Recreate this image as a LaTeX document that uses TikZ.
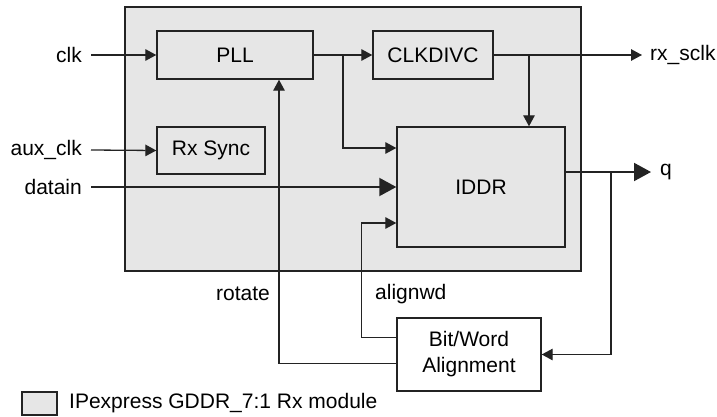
\documentclass[tikz,border=0pt]{standalone}
\usepackage{fontspec}
\setmainfont{Liberation Sans}
\usetikzlibrary{arrows.meta}
\definecolor{modfill}{RGB}{230,230,230}
\definecolor{ink}{RGB}{35,35,35}
\tikzset{
  blk/.style={draw=ink, line width=1.4pt, minimum width=#1, inner sep=0pt, align=center},
  sig/.style={draw=ink, line width=1.3pt, -{Triangle[length=11pt,width=11.5pt]}},
  bus/.style={draw=ink, line width=2pt, -{Triangle[length=17pt,width=18pt]}},
  wire/.style={draw=ink, line width=1.3pt},
  lbl/.style={inner sep=0pt, text=black},
}
\begin{document}
\begin{tikzpicture}[x=1pt, y=-1pt, font=\fontsize{21}{25}\selectfont]
\useasboundingbox (0,0) rectangle (717,417);

% module outline
\node[blk=456pt, minimum height=264pt, fill=modfill] (mod) at (353,139) {};

% blocks
\node[blk=156pt, minimum height=48pt] (pll) at (235,55) {PLL};
\node[blk=108pt, minimum height=47pt] (rx) at (211,150.5) {Rx Sync};
\node[blk=120pt, minimum height=48pt] (clkdiv) at (433,55) {CLKDIVC};
\node[blk=168pt, minimum height=120pt] (iddr) at (481,187) {IDDR};
\node[blk=144pt, minimum height=73pt, fill=white, font=\fontsize{21}{26}\selectfont] (bwa) at (469,354.5) {Bit/Word\\Alignment};

% port labels
\node[lbl, anchor=east] (clk) at (82,55) {clk};
\node[lbl, anchor=east] (aux) at (82,150) {aux\_clk};
\node[lbl, anchor=east] (din) at (82,187) {datain};
\node[lbl, anchor=west] (rxs) at (650,55) {rx\_sclk};
\node[lbl, anchor=west] (q) at (660,172) {q};
\node[lbl, anchor=east] (rot) at (270,294) {rotate};
\node[lbl, anchor=west] (alw) at (375,294) {alignwd};

% free ends
\coordinate (clkin) at (91,55);
\coordinate (auxin) at (91,150);
\coordinate (dinin) at (91,187);
\coordinate (rxsout) at (642,55);
\coordinate (qout) at (651,172);
\coordinate (b1) at (343,55);
\coordinate (b2) at (529,55);
\coordinate (b3) at (611,172);

% inputs
\draw[sig] (clkin) -- (pll.west);
\draw[sig] (auxin) -- (rx.west);
\draw[bus] (dinin) -- (iddr.west);

% clock path
\draw[sig] (pll.east) -- (clkdiv.west);
\draw[sig] (b1) |- ([yshift=39pt]iddr.west);
\draw[sig] (clkdiv.east) -- (rxsout);
\draw[sig] (b2) -- (b2 |- iddr.north);

% data output and alignment loop
\draw[bus] ([yshift=15pt]iddr.east) -- (qout);
\draw[sig] (b3) |- (bwa.east);
\draw[sig] ([yshift=17pt]bwa.west) -- ++(-35,0) |- ([yshift=-36pt]iddr.west);
\draw[sig] ([yshift=-9pt]bwa.west) -| ([xshift=44pt]pll.south);

% legend
\node[blk=35pt, minimum height=23pt, fill=modfill, line width=1.2pt] (key) at (39.5,403.5) {};
\node[lbl, anchor=west] (keytxt) at (69,403) {IPexpress GDDR\_7:1 Rx module};
\end{tikzpicture}
\end{document}
